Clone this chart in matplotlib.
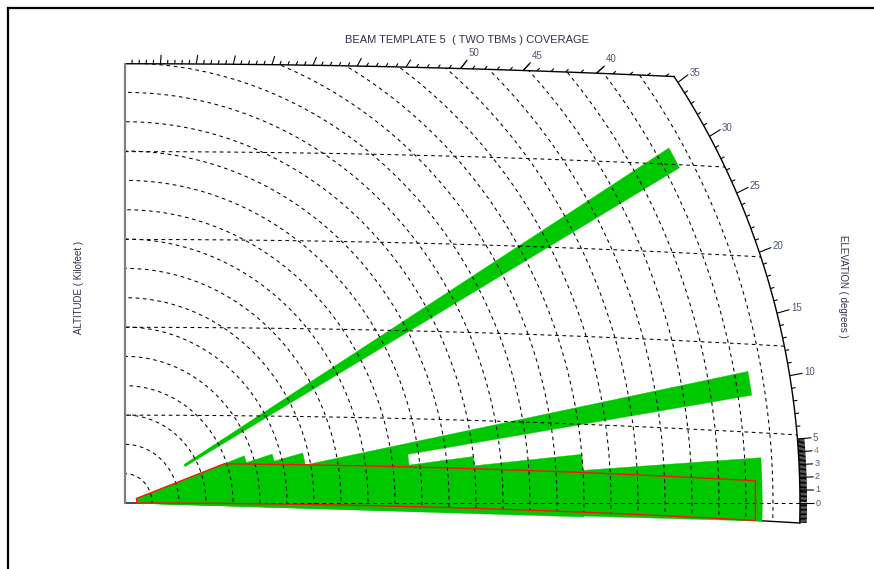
import numpy as np
import matplotlib.pyplot as plt
from matplotlib.patches import Polygon
from matplotlib.lines import Line2D
from matplotlib.collections import LineCollection

plt.rcParams['font.family'] = ['Liberation Sans', 'DejaVu Sans']

# earth model (4/3 earth radius, nautical miles)
KRE_NMI = 4.0 / 3.0 * 3440.065
KFT_PER_NMI = 6.07612

# chart data
MAX_RANGE_NMI = 250
RING_STEP_NMI = 10
ALT_TOP_KFT = 910
ALT_LINES_KFT = [182, 364, 546, 728]

# required coverage outline (red)
RED_ALT_KFT = 82
RED_MAX_ELEV = 20.0
RED_MIN_RANGE = 4.5
RED_MAX_X = 233.5

# beams: elevation edges (deg) and range extent (nmi)
beam_lo_elev = [-1.0, -1.0, -1.0, -1.0, -1.2, -1.6, -1.5, 9.0, 29.1]
beam_hi_elev = [20.0, 17.0, 14.5, 10.5, 7.0, 5.6, 3.75, 11.0, 31.0]
beam_r_min = [4.5, 4.5, 4.5, 4.5, 4.5, 4.5, 4.5, 40.0, 25.5]
beam_r_max = [47, 57, 68, 106, 130, 170, 236, 235, 235]

top_labels = [50, 45, 40]
right_labels = [35, 30, 25, 20, 15, 10, 5]
low_labels = [4, 3, 2, 1, 0]

# layout (pixels)
W, H = 874, 569
ORIGIN_PX = (125, 503)
PX_PER_NMI = 2.70
PX_PER_KFT = 0.4827

GREEN = '#00c800'
TXT = '#4f5874'


def to_xy(r, elev):
    e = np.radians(elev)
    return r * np.cos(e), r * np.sin(e) * KFT_PER_NMI


def alt_curve(h_kft, x):
    h = h_kft / KFT_PER_NMI
    return (np.sqrt((KRE_NMI + h) ** 2 - np.asarray(x) ** 2) - KRE_NMI) * KFT_PER_NMI


def ray_hits_alt(elev, h_kft):
    xs = np.linspace(0, 300, 30001)
    diff = xs * np.tan(np.radians(elev)) * KFT_PER_NMI - alt_curve(h_kft, xs)
    return xs[np.argmax(diff >= 0)]


def ring_hits_alt(r, h_kft):
    a = np.linspace(-5, 90, 95001)
    x, y = to_xy(r, a)
    return a[np.argmax(y - alt_curve(h_kft, x) >= 0)]


def ray_dir(elev, length_px):
    e = np.radians(elev)
    ux, uy = np.cos(e) * PX_PER_NMI, np.sin(e) * KFT_PER_NMI * PX_PER_KFT
    n = np.hypot(ux, uy)
    return length_px * ux / n / PX_PER_NMI, length_px * uy / n / PX_PER_KFT


fig = plt.figure(figsize=(W / 100, H / 100), dpi=100)
ax = fig.add_axes([0, 0, 1, 1])
ax.set_xlim(-ORIGIN_PX[0] / PX_PER_NMI, (W - ORIGIN_PX[0]) / PX_PER_NMI)
ax.set_ylim(-(H - ORIGIN_PX[1]) / PX_PER_KFT, ORIGIN_PX[1] / PX_PER_KFT)
ax.axis('off')

# chart region boundary
corner_elev = ring_hits_alt(MAX_RANGE_NMI, ALT_TOP_KFT)
earth_elev = ring_hits_alt(MAX_RANGE_NMI, 0)
corner_x = to_xy(MAX_RANGE_NMI, corner_elev)[0]
earth_x = to_xy(MAX_RANGE_NMI, earth_elev)[0]

top_x = np.linspace(0, corner_x, 200)
top_y = alt_curve(ALT_TOP_KFT, top_x)
arc_a = np.linspace(corner_elev, earth_elev, 200)
arc_x, arc_y = to_xy(MAX_RANGE_NMI, arc_a)
earth_xs = np.linspace(earth_x, 0, 200)
earth_ys = alt_curve(0, earth_xs)

region = Polygon(np.column_stack([np.concatenate([top_x, arc_x, earth_xs]),
                                  np.concatenate([top_y, arc_y, earth_ys])]),
                 closed=True, facecolor='none', edgecolor='none',
                 transform=ax.transData)
ax.add_patch(region)

# beams
for lo, hi, r0, r1 in zip(beam_lo_elev, beam_hi_elev, beam_r_min, beam_r_max):
    a = np.linspace(lo, hi, 40)
    ox, oy = to_xy(r1, a)
    ix, iy = to_xy(r0, a[::-1])
    ax.add_patch(Polygon(np.column_stack([np.concatenate([ox, ix]),
                                          np.concatenate([oy, iy])]),
                         closed=True, facecolor=GREEN, edgecolor=GREEN,
                         lw=0.3, zorder=2))

# grid: range rings, altitude lines, zero elevation line
dash = (0, (3.5, 3.5))
for r in range(RING_STEP_NMI, MAX_RANGE_NMI, RING_STEP_NMI):
    gx, gy = to_xy(r, np.linspace(-3, 90, 400))
    ln, = ax.plot(gx, gy, color='black', lw=0.75, ls=dash, zorder=3)
    ln.set_clip_path(region)

for h in ALT_LINES_KFT:
    gx = np.linspace(0, 260, 300)
    ln, = ax.plot(gx, alt_curve(h, gx), color='black', lw=0.75, ls=dash, zorder=3)
    ln.set_clip_path(region)

ln, = ax.plot([0, MAX_RANGE_NMI], [0, 0], color='black', lw=0.75, ls=dash, zorder=3)
ln.set_clip_path(region)

# red coverage outline
red_top_x0 = ray_hits_alt(RED_MAX_ELEV, RED_ALT_KFT)
rx = np.linspace(red_top_x0, RED_MAX_X, 100)
ex = np.linspace(RED_MAX_X, RED_MIN_RANGE, 100)
sx, sy = to_xy(RED_MIN_RANGE, RED_MAX_ELEV)
red_x = np.concatenate([[RED_MIN_RANGE, sx], rx, ex])
red_y = np.concatenate([[0, sy], alt_curve(RED_ALT_KFT, rx), alt_curve(0, ex)])
ax.add_patch(Polygon(np.column_stack([red_x, red_y]), closed=True,
                     facecolor='none', edgecolor='#ff1010', lw=1.0, zorder=4))

# frame lines
ax.plot(top_x, top_y, color='black', lw=1.0, zorder=5)
ax.plot(arc_x, arc_y, color='black', lw=1.0, zorder=5)
ax.plot(earth_xs, earth_ys, color='black', lw=1.0, zorder=1)
ax.plot([0, 0], [0, ALT_TOP_KFT], color='#808080', lw=1.6, zorder=5)

# elevation ticks
segs = []


def tick(px, py, elev, length):
    dx, dy = ray_dir(elev, length)
    segs.append([(px, py), (px + dx, py + dy)])
    return px + dx, py + dy


for e in range(int(np.ceil(corner_elev)), 90):
    tx = ray_hits_alt(e, ALT_TOP_KFT)
    ty = alt_curve(ALT_TOP_KFT, tx)
    end = tick(tx, ty, e, 9 if e % 5 == 0 else 4)
    if e in top_labels:
        end = tick(tx, ty, e, 11)
        ax.annotate(str(e), end, xytext=(1, 1), textcoords='offset points',
                    fontsize=7, color=TXT, ha='left', va='bottom', zorder=6)

for e in range(6, int(corner_elev) + 1):
    tx, ty = to_xy(MAX_RANGE_NMI, e)
    if e in right_labels:
        end = tick(tx, ty, e, 13)
        ax.annotate(str(e), end, xytext=(1, 1), textcoords='offset points',
                    fontsize=7, color=TXT, ha='left', va='center', zorder=6)
    else:
        tick(tx, ty, e, 4)

for e in np.arange(-1.5, 5.01, 0.1):
    tx, ty = to_xy(MAX_RANGE_NMI, e)
    tick(tx, ty, e, 7)

for e in [5] + low_labels:
    tx, ty = to_xy(MAX_RANGE_NMI, e)
    end = tick(tx, ty, e, 14)
    ax.annotate(str(e), end, xytext=(1, 0), textcoords='offset points',
                fontsize=6.5 if e < 5 else 7,
                color='#b07a3a' if e == 4 else TXT, ha='left', va='center', zorder=6)

ax.add_collection(LineCollection(segs, colors='black', linewidths=0.8, zorder=5))

# texts
fig.text(467 / W, 1 - 40 / H, 'BEAM TEMPLATE 5  ( TWO TBMs ) COVERAGE',
         ha='center', va='center', fontsize=8, color='#30304a')
fig.text(79 / W, 1 - 287 / H, 'ALTITUDE ( Kilofeet )', rotation=90,
         ha='center', va='center', fontsize=7, color='#30304a')
fig.text(843 / W, 1 - 286 / H, 'ELEVATION ( degrees )', rotation=270,
         ha='center', va='center', fontsize=7, color='#30304a')

# outer window frame
fig.add_artist(Line2D([8 / W, 8 / W], [0, 1 - 8 / H], transform=fig.transFigure,
                      color='black', lw=1.6))
fig.add_artist(Line2D([8 / W, 1], [1 - 8 / H, 1 - 8 / H], transform=fig.transFigure,
                      color='black', lw=1.6))

fig.savefig('out.png', dpi=100)
